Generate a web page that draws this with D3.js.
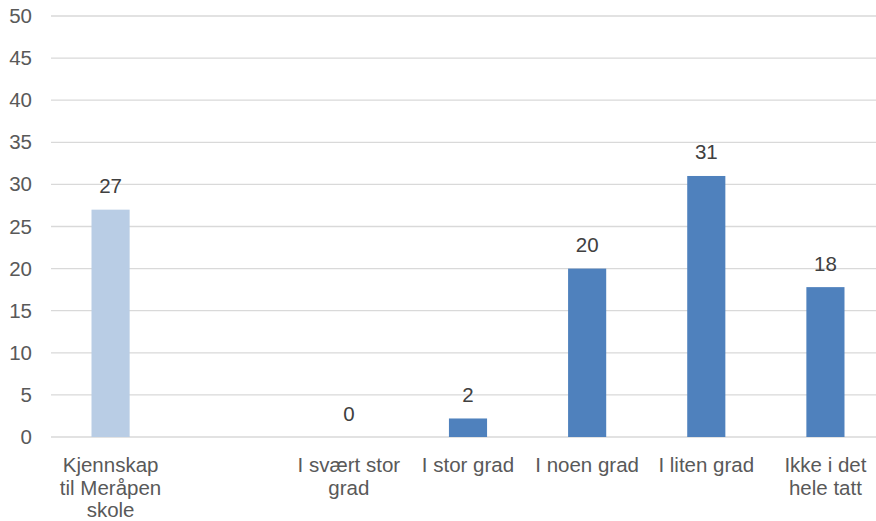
<!DOCTYPE html>
<html>
<head>
<meta charset="utf-8">
<script src="https://cdn.jsdelivr.net/npm/d3@7"></script>
<style>
  body { margin: 0; background: #fff; }
  text { font-family: "Liberation Sans", Arial, sans-serif; }
</style>
</head>
<body>
<div id="chart"></div>
<script>
const width = 876;
const height = 521;

// data
const categories = ["Kjennskap til Meråpen skole", "", "I svært stor grad", "I stor grad", "I noen grad", "I liten grad", "Ikke i det hele tatt"];
const values = [27.0, null, 0, 2.2, 20.0, 31.0, 17.8];
const valueLabels = ["27", "", "0", "2", "20", "31", "18"];
const labelLines = [["Kjennskap", "til Meråpen", "skole"], [], ["I svært stor", "grad"], ["I stor grad"], ["I noen grad"], ["I liten grad"], ["Ikke i det", "hele tatt"]];
const barColors = ["#b9cde5", null, "#4f81bd", "#4f81bd", "#4f81bd", "#4f81bd", "#4f81bd"];
const yTicks = [0, 5, 10, 15, 20, 25, 30, 35, 40, 45, 50];

const plot = { left: 51, right: 885, top: 16, bottom: 437 };

const xScale = d3.scaleBand()
    .domain(d3.range(categories.length))
    .range([plot.left, plot.right])
    .paddingInner(0.68)
    .paddingOuter(0.34);

const yScale = d3.scaleLinear()
    .domain([0, 50])
    .range([plot.bottom, plot.top]);

const svg = d3.select("#chart").append("svg").attr("width", width).attr("height", height);

// gridlines
svg.append("g")
    .selectAll("line")
    .data(yTicks)
    .join("line")
    .attr("x1", plot.left)
    .attr("x2", width)
    .attr("y1", d => yScale(d))
    .attr("y2", d => yScale(d))
    .attr("stroke", "#d9d9d9")
    .attr("stroke-width", 1.3);

// y axis labels
const yAxis = d3.axisLeft(yScale).tickValues(yTicks).tickSize(0).tickPadding(0);
const ya = svg.append("g")
    .attr("transform", `translate(32,0)`)
    .call(yAxis);
ya.select(".domain").remove();
ya.selectAll("text")
    .attr("fill", "#595959")
    .style("font-size", "20.5px")
    .style("font-family", "'Liberation Sans', Arial, sans-serif");

// bars
const idx = d3.range(categories.length).filter(i => values[i] !== null);

svg.append("g")
    .selectAll("rect")
    .data(idx)
    .join("rect")
    .attr("x", i => xScale(i))
    .attr("width", xScale.bandwidth())
    .attr("y", i => yScale(values[i]))
    .attr("height", i => yScale(0) - yScale(values[i]))
    .attr("fill", i => barColors[i]);

// value labels
svg.append("g")
    .selectAll("text")
    .data(idx)
    .join("text")
    .attr("x", i => xScale(i) + xScale.bandwidth() / 2)
    .attr("y", i => yScale(values[i]) - 16.5)
    .attr("text-anchor", "middle")
    .attr("fill", "#404040")
    .style("font-size", "20.5px")
    .text(i => valueLabels[i]);

// category labels
const cat = svg.append("g")
    .selectAll("text")
    .data(d3.range(categories.length))
    .join("text")
    .attr("x", i => xScale(i) + xScale.bandwidth() / 2)
    .attr("y", 472)
    .attr("text-anchor", "middle")
    .attr("fill", "#595959")
    .style("font-size", "20.5px");

cat.selectAll("tspan")
    .data(i => labelLines[i].map(t => ({ t, i })))
    .join("tspan")
    .attr("x", d => xScale(d.i) + xScale.bandwidth() / 2)
    .attr("dy", (d, j) => j === 0 ? 0 : 22.5)
    .text(d => d.t);
</script>
</body>
</html>
